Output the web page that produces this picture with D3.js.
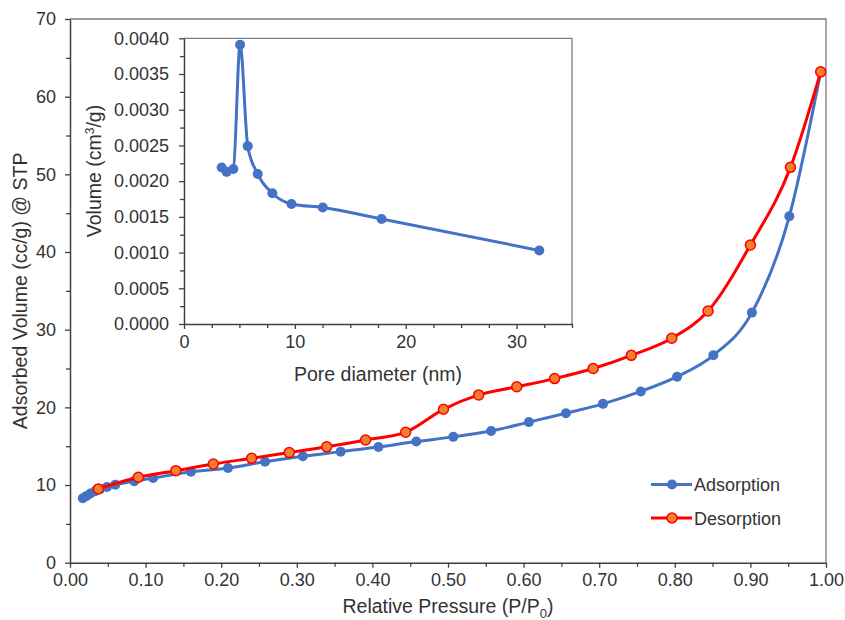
<!DOCTYPE html>
<html>
<head>
<meta charset="utf-8">
<script src="https://cdn.jsdelivr.net/npm/d3@7"></script>
<style>
  html, body { margin: 0; padding: 0; background: #fff; }
  svg text { font-family: "Liberation Sans", Arial, sans-serif; fill: #333; }
</style>
</head>
<body>
<svg id="chart" width="845" height="620"></svg>
<script>
// Nitrogen sorption isotherm: relative pressure vs adsorbed volume
const adsP = [0.017, 0.022, 0.027, 0.033, 0.040, 0.049, 0.060, 0.085, 0.110, 0.160, 0.209, 0.258, 0.308, 0.358, 0.408, 0.458, 0.507, 0.557, 0.607, 0.656, 0.705, 0.755, 0.803, 0.851, 0.902, 0.9515, 0.993];
const adsV = [8.3, 8.6, 8.9, 9.2, 9.5, 9.75, 10.05, 10.5, 10.9, 11.7, 12.2, 13.0, 13.7, 14.3, 14.9, 15.6, 16.2, 16.95, 18.1, 19.25, 20.45, 22.05, 23.95, 26.7, 32.2, 44.6, 63.2];

const desP = [0.993, 0.953, 0.900, 0.844, 0.796, 0.7425, 0.692, 0.641, 0.591, 0.5406, 0.494, 0.444, 0.391, 0.3395, 0.290, 0.2403, 0.1896, 0.140, 0.0904, 0.0375];
const desV = [63.2, 50.9, 40.9, 32.4, 28.9, 26.7, 25.0, 23.7, 22.65, 21.6, 19.75, 16.8, 15.8, 14.92, 14.18, 13.44, 12.7, 11.85, 11.0, 9.5];

// Pore size distribution (inset)
const poreD = [3.40, 3.85, 4.45, 5.06, 5.75, 6.65, 7.97, 9.69, 12.52, 17.82, 32.05];
const poreV = [0.00219, 0.00213, 0.00217, 0.00391, 0.00249, 0.00210, 0.00183, 0.00168, 0.00163, 0.00147, 0.00103];

// Axis ticks
const mainXTicks = [0, 0.1, 0.2, 0.3, 0.4, 0.5, 0.6, 0.7, 0.8, 0.9, 1.0];
const mainYTicks = [0, 10, 20, 30, 40, 50, 60, 70];
const insetXTicks = [0, 10, 20, 30];
const insetYTicks = [0, 0.0005, 0.0010, 0.0015, 0.0020, 0.0025, 0.0030, 0.0035, 0.0040];

const seriesNames = ["Adsorption", "Desorption"];

const BLUE = "#4472C4";
const RED = "#FF0000";
const ORANGE = "#F0822F";
const AXIS = "#404040";
const FRAME = "#7f7f7f";
const TITLE_SIZE = 19.5;

const svg = d3.select("#chart");

// ---------- main plot ----------
const M = { left: 70, right: 826, top: 19, bottom: 562.7 };
const x = d3.scaleLinear().domain([0, 1]).range([M.left, M.right]);
const y = d3.scaleLinear().domain([0, 70]).range([M.bottom, M.top]);

// frame (top/right)
svg.append("path")
  .attr("d", `M${M.left},${M.top}H${M.right}V${M.bottom}`)
  .attr("fill", "none").attr("stroke", FRAME).attr("stroke-width", 1.3);

function styleAxis(g, fontSize) {
  g.select(".domain").attr("stroke", AXIS).attr("stroke-width", 1.5);
  g.selectAll(".tick line").attr("stroke", AXIS).attr("stroke-width", 1.3);
  g.selectAll(".tick text").attr("fill", "#333").style("font-size", fontSize + "px")
    .style("font-family", '"Liberation Sans", Arial, sans-serif');
}

// minor ticks
svg.append("g").attr("transform", `translate(0,${M.bottom})`)
  .call(d3.axisBottom(x).tickValues(d3.range(0.05, 1, 0.1)).tickSize(4).tickFormat(""))
  .call(g => { g.select(".domain").remove(); g.selectAll("line").attr("stroke", AXIS).attr("stroke-width", 1.3); });
svg.append("g").attr("transform", `translate(${M.left},0)`)
  .call(d3.axisLeft(y).tickValues(d3.range(5, 70, 10)).tickSize(4).tickFormat(""))
  .call(g => { g.select(".domain").remove(); g.selectAll("line").attr("stroke", AXIS).attr("stroke-width", 1.3); });

const gx = svg.append("g").attr("transform", `translate(0,${M.bottom})`)
  .call(d3.axisBottom(x).tickValues(mainXTicks).tickFormat(d3.format(".2f")).tickSize(5).tickSizeOuter(0).tickPadding(6));
styleAxis(gx, 18);
const gy = svg.append("g").attr("transform", `translate(${M.left},0)`)
  .call(d3.axisLeft(y).tickValues(mainYTicks).tickSize(5).tickSizeOuter(0).tickPadding(9));
styleAxis(gy, 18);

// axis titles
const xt = svg.append("text").attr("x", (M.left + M.right) / 2).attr("y", 613)
  .attr("text-anchor", "middle").style("font-size", TITLE_SIZE + "px");
xt.append("tspan").text("Relative Pressure (P/P");
xt.append("tspan").attr("dy", 4.5).style("font-size", "13px").text("0");
xt.append("tspan").attr("dy", -4.5).text(")");

svg.append("text")
  .attr("transform", `translate(27,${(M.top + M.bottom) / 2}) rotate(-90)`)
  .attr("text-anchor", "middle").style("font-size", TITLE_SIZE + "px")
  .text("Adsorbed Volume (cc/g) @ STP");

// curves
const line = d3.line().x(d => x(d[0])).y(d => y(d[1])).curve(d3.curveMonotoneX);
const ads = adsP.map((p, i) => [p, adsV[i]]);
const des = desP.map((p, i) => [p, desV[i]]).sort((a, b) => a[0] - b[0]);

svg.append("path").datum(ads).attr("d", line)
  .attr("fill", "none").attr("stroke", BLUE).attr("stroke-width", 3);
svg.append("g").selectAll("circle").data(ads).join("circle")
  .attr("cx", d => x(d[0])).attr("cy", d => y(d[1])).attr("r", 5).attr("fill", BLUE);

svg.append("path").datum(des).attr("d", line)
  .attr("fill", "none").attr("stroke", RED).attr("stroke-width", 3);
svg.append("g").selectAll("circle").data(des).join("circle")
  .attr("cx", d => x(d[0])).attr("cy", d => y(d[1])).attr("r", 5)
  .attr("fill", ORANGE).attr("stroke", RED).attr("stroke-width", 1.5);

// legend
const legend = svg.append("g");
[[BLUE, BLUE, null], [RED, ORANGE, RED]].forEach((c, i) => {
  const ly = 484.5 + i * 33.5;
  legend.append("line").attr("x1", 651).attr("x2", 692).attr("y1", ly).attr("y2", ly)
    .attr("stroke", c[0]).attr("stroke-width", 3);
  legend.append("circle").attr("cx", 672).attr("cy", ly).attr("r", 5)
    .attr("fill", c[1]).attr("stroke", c[2] || "none").attr("stroke-width", 1.5);
  legend.append("text").attr("x", 694).attr("y", ly + 6.5).style("font-size", "18px").text(seriesNames[i]);
});

// ---------- inset: pore size distribution ----------
const I = { left: 184, right: 572, top: 38.3, bottom: 324 };
const ix = d3.scaleLinear().domain([0, 35]).range([I.left, I.right]);
const iy = d3.scaleLinear().domain([0, 0.004]).range([I.bottom, I.top]);

svg.append("rect").attr("x", I.left).attr("y", I.top)
  .attr("width", I.right - I.left).attr("height", I.bottom - I.top).attr("fill", "#fff");
svg.append("path")
  .attr("d", `M${I.left},${I.top}H${I.right}V${I.bottom}`)
  .attr("fill", "none").attr("stroke", FRAME).attr("stroke-width", 1.3);

svg.append("g").attr("transform", `translate(0,${I.bottom})`)
  .call(d3.axisBottom(ix).tickValues(d3.range(2.5, 35.01, 2.5).filter(v => v % 10 !== 0)).tickSize(4).tickFormat(""))
  .call(g => { g.select(".domain").remove(); g.selectAll("line").attr("stroke", AXIS).attr("stroke-width", 1.3); });
svg.append("g").attr("transform", `translate(${I.left},0)`)
  .call(d3.axisLeft(iy).tickValues(d3.range(0.00025, 0.004, 0.0005)).tickSize(4).tickFormat(""))
  .call(g => { g.select(".domain").remove(); g.selectAll("line").attr("stroke", AXIS).attr("stroke-width", 1.3); });

const igx = svg.append("g").attr("transform", `translate(0,${I.bottom})`)
  .call(d3.axisBottom(ix).tickValues(insetXTicks).tickSize(5).tickSizeOuter(0).tickPadding(6));
styleAxis(igx, 18);
const igy = svg.append("g").attr("transform", `translate(${I.left},0)`)
  .call(d3.axisLeft(iy).tickValues(insetYTicks).tickFormat(d3.format(".4f")).tickSize(5).tickSizeOuter(0).tickPadding(10));
styleAxis(igy, 18);

svg.append("text").attr("x", (I.left + I.right) / 2).attr("y", 381)
  .attr("text-anchor", "middle").style("font-size", TITLE_SIZE + "px").text("Pore diameter (nm)");

const iyt = svg.append("text")
  .attr("transform", `translate(101,171) rotate(-90)`)
  .attr("text-anchor", "middle").style("font-size", TITLE_SIZE + "px");
iyt.append("tspan").text("Volume (cm");
iyt.append("tspan").attr("dy", -7).style("font-size", "12px").text("3");
iyt.append("tspan").attr("dy", 7).text("/g)");

const pore = poreD.map((d, i) => [d, poreV[i]]);
const iline = d3.line().x(d => ix(d[0])).y(d => iy(d[1])).curve(d3.curveMonotoneX);
svg.append("path").datum(pore).attr("d", iline)
  .attr("fill", "none").attr("stroke", BLUE).attr("stroke-width", 3);
svg.append("g").selectAll("circle").data(pore).join("circle")
  .attr("cx", d => ix(d[0])).attr("cy", d => iy(d[1])).attr("r", 5).attr("fill", BLUE);
</script>
</body>
</html>
